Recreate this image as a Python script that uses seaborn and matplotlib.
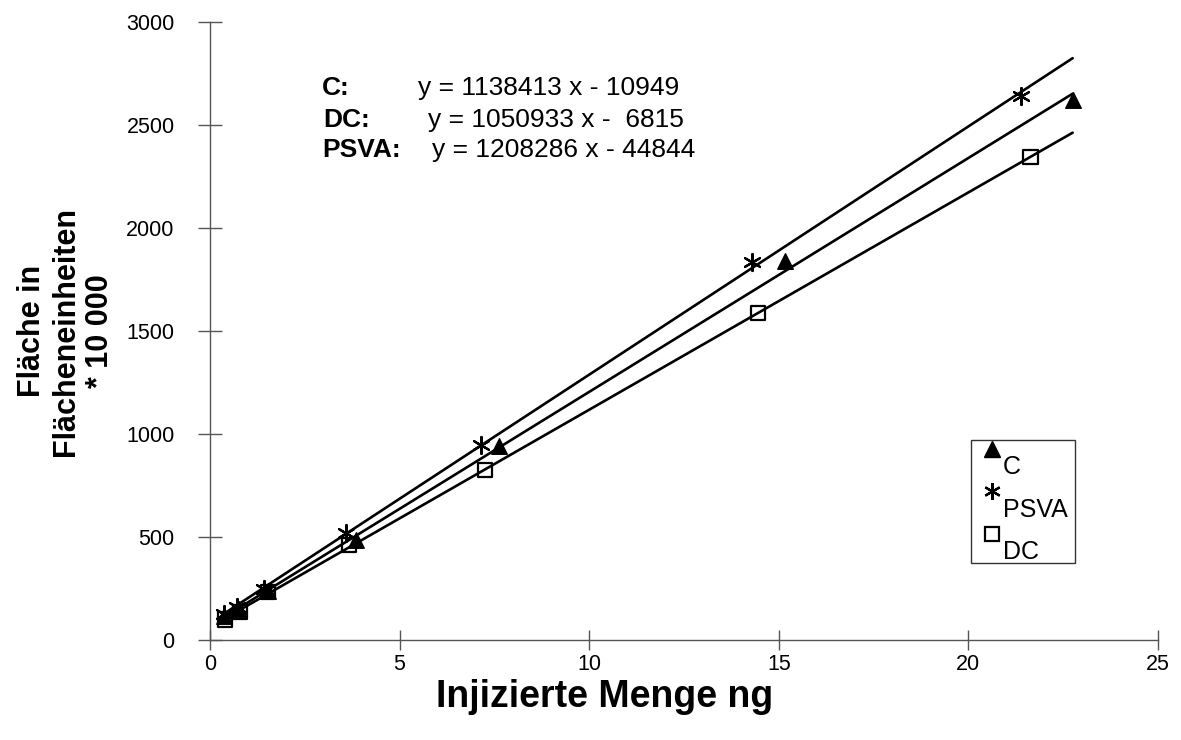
import numpy as np
import pandas as pd
import matplotlib
matplotlib.use("Agg")
import matplotlib.pyplot as plt
from matplotlib.lines import Line2D
from matplotlib.transforms import Affine2D
import seaborn as sns

# values (area in units of 10 000)
series_names = ["C", "PSVA", "DC"]
c_x = [0.38, 0.76, 1.52, 3.85, 7.62, 15.16, 22.75]
c_y = [115, 150, 240, 485, 942, 1840, 2620]
psva_x = [0.36, 0.71, 1.43, 3.6, 7.14, 14.3, 21.4]
psva_y = [125, 160, 250, 520, 947, 1837, 2640]
dc_x = [0.40, 0.79, 1.54, 3.67, 7.25, 14.46, 21.64]
dc_y = [100, 137, 234, 461, 825, 1586, 2346]

eq_labels = ["C:", "DC:", "PSVA:"]
eq_texts = ["y = 1138413 x - 10949", "y = 1050933 x -  6815", "y = 1208286 x - 44844"]

x_ticks = [0, 5, 10, 15, 20, 25]
y_ticks = [0, 500, 1000, 1500, 2000, 2500, 3000]

sns.set_style("white")
plt.rcParams["font.family"] = ["Liberation Sans", "DejaVu Sans"]
plt.rcParams.update({"text.color": "black", "axes.labelcolor": "black",
                     "xtick.color": "black", "ytick.color": "black"})

data = pd.concat([
    pd.DataFrame({"x": c_x, "y": c_y, "Series": "C"}),
    pd.DataFrame({"x": psva_x, "y": psva_y, "Series": "PSVA"}),
    pd.DataFrame({"x": dc_x, "y": dc_y, "Series": "DC"}),
], ignore_index=True)

fig = plt.figure(figsize=(11.81, 7.40), dpi=100)
ax = fig.add_axes([0.1778, 0.1351, 0.8027, 0.8352])

# linear trend lines, drawn over the full x range of all data
x_lo, x_hi = data["x"].min(), data["x"].max()
for name in series_names:
    sub = data[data["Series"] == name]
    k, d = np.polyfit(sub["x"], sub["y"], 1)
    xx = np.array([x_lo, x_hi])
    sns.lineplot(x=xx, y=k * xx + d, color="black", lw=1.9, ax=ax, legend=False)

styles = {
    "C": dict(marker="^", s=125, facecolor="black", edgecolor="black", linewidth=1),
    "PSVA": dict(marker=(6, 2, 0), s=150, facecolor="black", edgecolor="black", linewidth=1.6),
    "DC": dict(marker="s", s=105, facecolor="none", edgecolor="black", linewidth=1.6),
}
for name in series_names:
    sub = data[data["Series"] == name]
    sns.scatterplot(data=sub, x="x", y="y", ax=ax, legend=False, zorder=3, **styles[name])

ax.set_xlim(0, 25)
ax.set_ylim(0, 3000)
ax.set_xticks(x_ticks)
ax.set_yticks(y_ticks)
sns.despine(ax=ax)
for side in ["left", "bottom"]:
    ax.spines[side].set_color("#555555")
    ax.spines[side].set_linewidth(1.0)
ax.tick_params(axis="both", bottom=True, left=True, direction="inout", width=1.0,
               color="#555555", labelsize=15.5, labelcolor="black")
ax.tick_params(axis="y", length=17, pad=17)
ax.tick_params(axis="x", length=14, pad=3)

ax.set_xlabel("Injizierte Menge ng", fontsize=27, fontweight="bold", labelpad=3, x=0.4167)
ax.set_ylabel("Fläche in\nFlächeneinheiten\n* 10 000", fontsize=22, fontweight="bold",
              linespacing=1.17, labelpad=8)

# regression equations
eq_rows = [88, 120, 150]
eq_label_x = [322, 323, 322]
eq_text_x = [418, 428, 432]
H, W = 740.0, 1181.0
for lab, eq, r, lx, tx in zip(eq_labels, eq_texts, eq_rows, eq_label_x, eq_text_x):
    fig.text(lx / W, 1 - r / H, lab, fontsize=19, fontweight="bold", va="center")
    fig.text(tx / W, 1 - r / H, eq, fontsize=19, va="center")

# legend: Excel style, label sits below-right of its marker
handles = [
    Line2D([], [], ls="none", marker="^", color="black", markersize=11),
    Line2D([], [], ls="none", marker=(6, 2, 0), color="black", markersize=12, mew=1.6),
    Line2D([], [], ls="none", marker="s", mfc="none", mec="black", markersize=10, mew=1.6),
]
leg = ax.legend(handles, series_names, loc="upper left", bbox_to_anchor=(0.803, 0.324),
                frameon=True, fancybox=False, edgecolor="black", fontsize=18,
                handlelength=1.1, handletextpad=-0.1, borderpad=0.28, labelspacing=0.74,
                borderaxespad=0)
leg.get_frame().set_linewidth(1.0)
for t in leg.get_texts():
    t.set_transform(t.get_transform() + Affine2D().translate(0, -8.5))
for h in leg.legend_handles:
    h.set_transform(h.get_transform() + Affine2D().translate(0, 8.5))

fig.savefig("out.png", dpi=100)
